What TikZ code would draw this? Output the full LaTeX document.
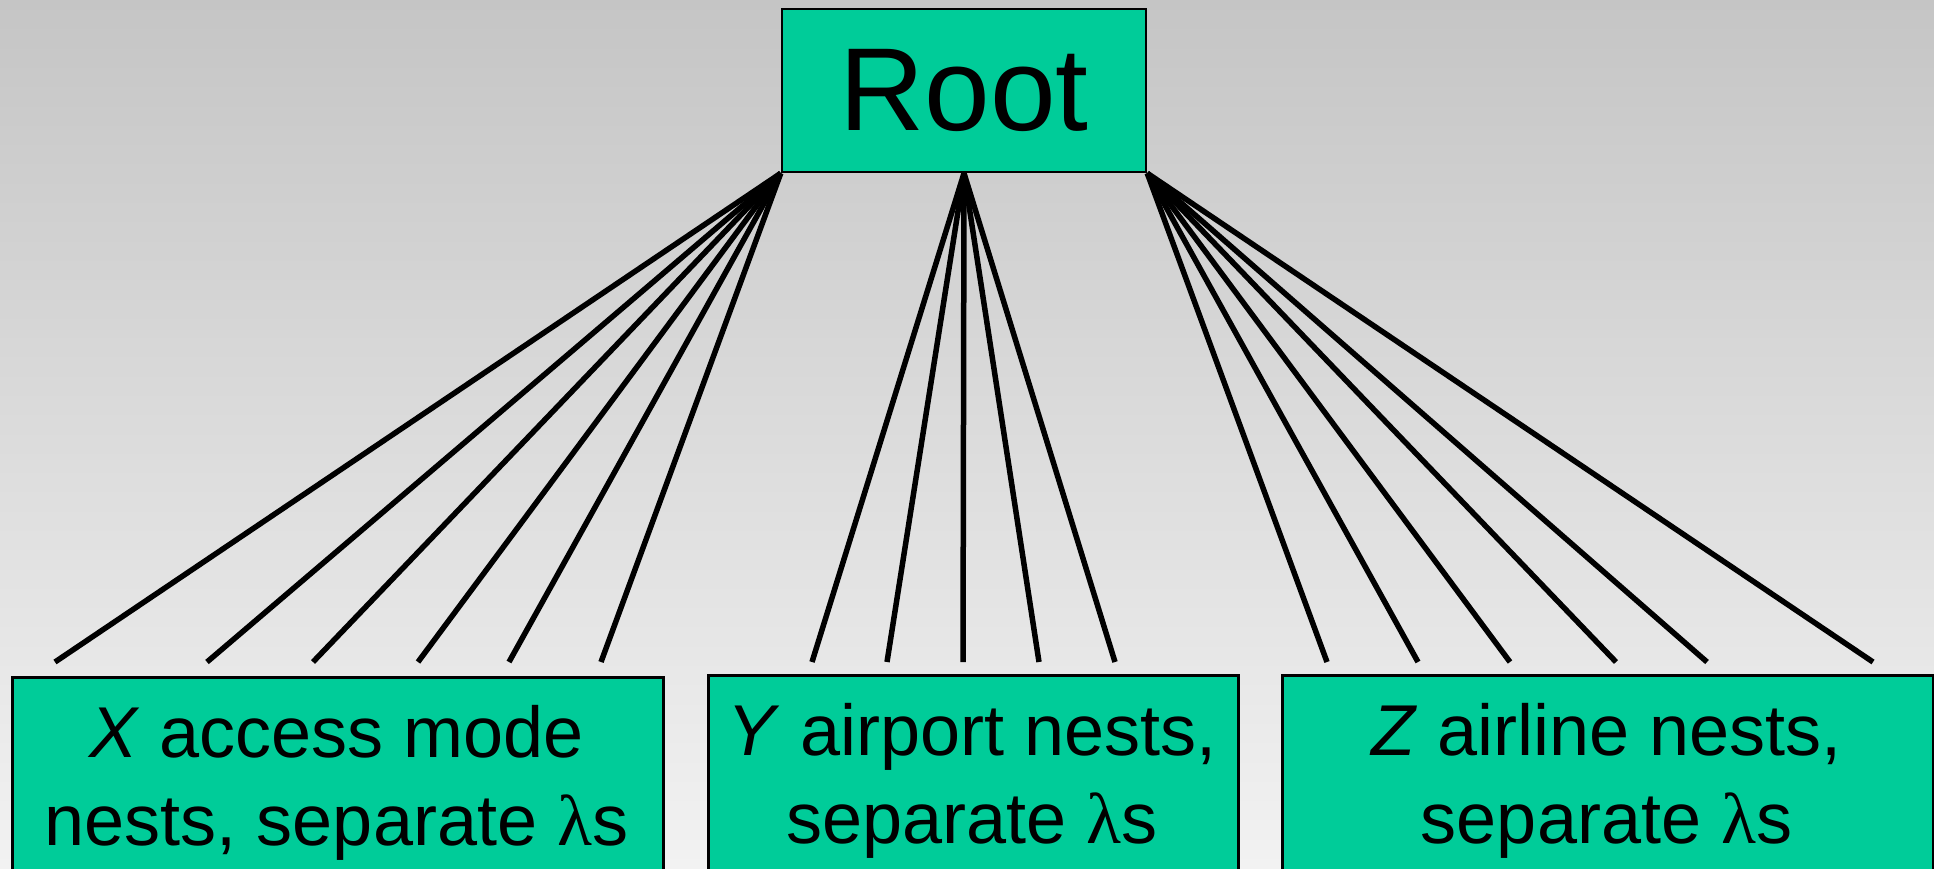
\documentclass[tikz,border=0pt]{standalone}
\usepackage{fontspec}
\setmainfont{Liberation Sans}
\newfontfamily\lamfont{Liberation Serif}
\definecolor{boxgreen}{RGB}{0,204,153}
\definecolor{bgtop}{RGB}{197,197,197}
\definecolor{bgbot}{RGB}{242,242,242}
\begin{document}
\begin{tikzpicture}[x=1pt,y=-1pt,
  greenbox/.style={draw=black, line width=2.5pt, fill=boxgreen, rectangle, inner sep=0pt},
  leaftext/.style={align=center, font=\fontsize{72}{88}\selectfont, inner sep=0pt},
  branch/.style={line width=5.5pt, line cap=butt}]
\useasboundingbox (0,0) rectangle (1934,868);
\shade[top color=bgtop, bottom color=bgbot] (0,0) rectangle (1934,868);
\begin{scope}
\clip (0,0) rectangle (1934,868);
% boxes
\node[greenbox, minimum width=364pt, minimum height=163pt,
      font=\fontsize{118}{130}\selectfont] (root) at (964,90.5) {Root};
\node[greenbox, anchor=north west, minimum width=651pt, minimum height=260pt] (xbox) at (11,676) {};
\node[greenbox, anchor=north west, minimum width=530pt, minimum height=260pt] (ybox) at (707,674) {};
\node[greenbox, anchor=north west, minimum width=651pt, minimum height=260pt] (zbox) at (1281,674) {};
% texts (anchor base = baseline of the last line)
\node[leaftext, anchor=base] (xtext) at (336.5,845) {\textit{X} access mode\\nests, separate {\lamfont λ}s};
\node[leaftext, anchor=base] (ytext) at (972,843) {\textit{Y} airport nests,\\separate {\lamfont λ}s};
\node[leaftext, anchor=base] (ztext) at (1606.5,843) {\textit{Z} airline nests,\\separate {\lamfont λ}s};
% free ends of the branches
\coordinate (a1) at (55,662);
\coordinate (a2) at (207,662);
\coordinate (a3) at (313,662);
\coordinate (a4) at (418,662);
\coordinate (a5) at (509,662);
\coordinate (a6) at (601,662);
\coordinate (b1) at (812,662);
\coordinate (b2) at (887,662);
\coordinate (b3) at (963,662);
\coordinate (b4) at (1039,662);
\coordinate (b5) at (1115,662);
\coordinate (c1) at (1327,662);
\coordinate (c2) at (1418,662);
\coordinate (c3) at (1510,662);
\coordinate (c4) at (1616,662);
\coordinate (c5) at (1707,662);
\coordinate (c6) at (1873,662);
\foreach \e in {a1,a2,a3,a4,a5,a6}
  \draw[branch] (root.south west) -- (\e);
\foreach \e in {b1,b2,b3,b4,b5}
  \draw[branch] (root.south) -- (\e);
\foreach \e in {c1,c2,c3,c4,c5,c6}
  \draw[branch] (root.south east) -- (\e);
\end{scope}
\end{tikzpicture}
\end{document}
